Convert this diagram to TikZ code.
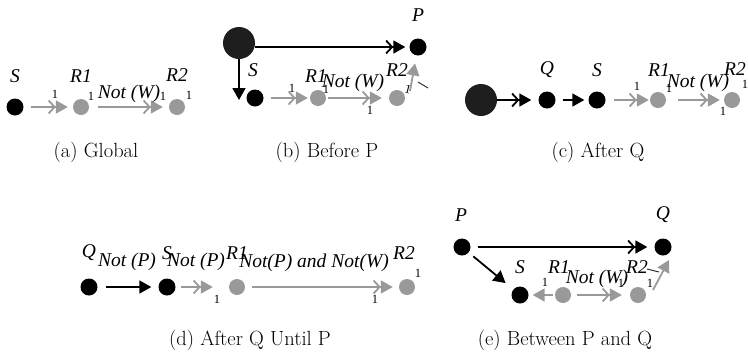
\documentclass[tikz,border=0pt]{standalone}
\usepackage{fontspec}
\newfontfamily\tms{Liberation Serif}
\usetikzlibrary{arrows.meta}
\definecolor{gr}{HTML}{999999}
\definecolor{bigc}{HTML}{1E1E1E}
\begin{document}
\begin{tikzpicture}[x=1pt,y=-1pt,
  bdot/.style={circle,fill=black,minimum size=17pt,inner sep=0pt},
  gdot/.style={circle,fill=gr,minimum size=16pt,inner sep=0pt},
  bigdot/.style={circle,fill=bigc,minimum size=32pt,inner sep=0pt},
  lbl/.style={font=\tms\itshape\fontsize{19.5}{20}\selectfont,inner sep=0pt},
  one/.style={font=\tms\fontsize{12.5}{13}\selectfont,inner sep=0pt},
  captxt/.style={font=\fontsize{20.5}{24}\selectfont,inner sep=0pt},
  dtip/.style={-{Straight Barb[length=6pt,width=13pt]Triangle[length=12pt,width=13pt]}},
  stip/.style={-{Triangle[length=12pt,width=13pt]}},
  ga/.style={draw=gr,line width=1.8pt},
  ba/.style={draw=black,line width=1.8pt},
  tickline/.style={draw=black!80,line width=1pt}
]
\useasboundingbox (0,0) rectangle (748,357);

% ---------- (a) Global
\node[bdot] (aS) at (15,107) {};
\node[gdot] (aR1) at (81,107) {};
\node[gdot] (aR2) at (177,107) {};
\node[lbl] (aSl) at (15,76) {S};
\node[lbl] (aR1l) at (81,76) {R1};
\node[lbl] (aR2l) at (177,75) {R2};
\draw[ga,dtip,shorten <=7pt,shorten >=5pt] (aS) -- (aR1);
\draw[ga,dtip,shorten <=9pt,shorten >=6pt] (aR1) -- (aR2);
\node[lbl] (aNW) at (129,94) {Not (W)};
\node[one] (a1) at (55,94) {1};
\node[one] (a2) at (91,96) {1};
\node[one] (a3) at (163,96) {1};
\node[one] (a4) at (189,95) {1};
\node[captxt] (acap) at (96,152) {(a) Global};

% ---------- (b) Before P
\node[bigdot] (bB) at (239,43) {};
\node[bdot] (bP) at (418,47) {};
\node[bdot] (bS) at (255,98) {};
\node[gdot] (bR1) at (318,98) {};
\node[gdot] (bR2) at (397,98) {};
\node[lbl] (bPl) at (418,15) {P};
\node[lbl] (bSl) at (253,70) {S};
\node[lbl] (bR1l) at (316,76) {R1};
\node[lbl] (bR2l) at (397,70) {R2};
\coordinate (bD) at (bB |- bS);
\coordinate (bq) at (410,91);
\draw[ba,dtip,shorten >=4pt] (bB.east |- bP) -- (bP);
\draw[ba,stip,shorten >=-2pt] (bB) -- (bD);
\draw[ga,dtip,shorten <=7pt,shorten >=2pt] (bS) -- (bR1);
\draw[ga,dtip,shorten <=2pt,shorten >=7pt] (bR1) -- (bR2);
\draw[ga,stip,shorten >=8pt] (bq) -- (bP);
\node[lbl] (bNW) at (353,83) {Not (W)};
\node[one] (b1) at (292,88) {1};
\node[one] (b2) at (326,89) {1};
\node[one] (b3) at (370,110) {1};
\node[one,rotate=-15] (b4) at (408,89) {1};
\draw[tickline] (418,82) -- (428,88);
\node[captxt] (bcap) at (327,152) {(b) Before P};

% ---------- (c) After Q
\node[bigdot] (cB) at (481,100) {};
\node[bdot] (cQ) at (547,100) {};
\node[bdot] (cS) at (597,100) {};
\node[gdot] (cR1) at (658,100) {};
\node[gdot] (cR2) at (732,100) {};
\node[lbl] (cQl) at (547,70) {Q};
\node[lbl] (cSl) at (597,70) {S};
\node[lbl] (cR1l) at (659,70) {R1};
\node[lbl] (cR2l) at (735,69) {R2};
\draw[ba,dtip,shorten >=7pt] (cB) -- (cQ);
\draw[ba,stip,shorten <=7pt,shorten >=4pt] (cQ) -- (cS);
\draw[ga,dtip,shorten <=8pt,shorten >=1pt] (cS) -- (cR1);
\draw[ga,dtip,shorten <=12pt,shorten >=4pt] (cR1) -- (cR2);
\node[lbl] (cNW) at (698,83) {Not (W)};
\node[one] (c1) at (637,86) {1};
\node[one] (c2) at (669,88) {1};
\node[one] (c3) at (723,111) {1};
\node[one] (c4) at (745,84) {1};
\node[captxt] (ccap) at (598,152) {(c) After Q};

% ---------- (d) After Q Until P
\node[bdot] (dQ) at (89,287) {};
\node[bdot] (dS) at (167,287) {};
\node[gdot] (dR1) at (237,287) {};
\node[gdot] (dR2) at (407,287) {};
\node[lbl] (dQl) at (89,253) {Q};
\node[lbl] (dSl) at (167,253) {S};
\node[lbl] (dR1l) at (237,253) {R1};
\node[lbl] (dR2l) at (404,253) {R2};
\draw[ba,stip,shorten <=8pt,shorten >=7pt] (dQ) -- (dS);
\draw[ga,dtip,shorten <=5pt,shorten >=16pt] (dS) -- (dR1);
\draw[ga,dtip,shorten <=7pt,shorten >=6pt] (dR1) -- (dR2);
\node[lbl] (dNP1) at (127,262) {Not (P)};
\node[lbl] (dNP2) at (196,262) {Not (P)};
\node[lbl] (dNPW) at (314,263) {Not(P) and Not(W)};
\node[one] (d1) at (217,299) {1};
\node[one] (d2) at (375,299) {1};
\node[one] (d3) at (418,273) {1};
\node[captxt] (dcap) at (250,340) {(d) After Q Until P};

% ---------- (e) Between P and Q
\node[bdot] (eP) at (462,247) {};
\node[bdot] (eQ) at (663,247) {};
\node[bdot] (eS) at (520,295) {};
\node[gdot] (eR1) at (563,295) {};
\node[gdot] (eR2) at (638,295) {};
\node[lbl] (ePl) at (461,215) {P};
\node[lbl] (eQl) at (663,215) {Q};
\node[lbl] (eSl) at (520,267) {S};
\node[lbl] (eR1l) at (559,267) {R1};
\node[lbl] (eR2l) at (637,267) {R2};
\coordinate (eq) at (653,290);
\coordinate (eqt) at (669,260);
\draw[ba,dtip,shorten <=7pt,shorten >=7pt] (eP) -- (eQ);
\draw[ba,stip,shorten <=6pt,shorten >=10pt] (eP) -- (eS);
\draw[ga,stip,shorten <=2pt,shorten >=4pt] (eR1) -- (eS);
\draw[ga,dtip,shorten <=6pt,shorten >=8pt] (eR1) -- (eR2);
\draw[ga,stip] (eq) -- (eqt);
\draw[tickline] (647,269) -- (659,272);
\node[lbl] (eNW) at (597,279) {Not (W)};
\node[one] (e1) at (545,282) {1};
\node[one] (e2) at (621,283) {1};
\node[one] (e3) at (650,283) {1};
\node[captxt] (ecap) at (565,340) {(e) Between P and Q};
\end{tikzpicture}
\end{document}
